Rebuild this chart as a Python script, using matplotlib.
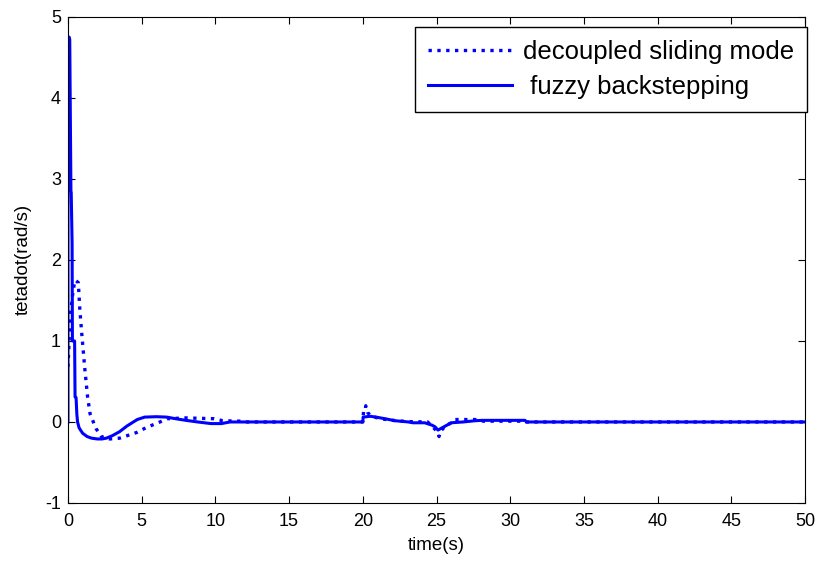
import matplotlib
matplotlib.use("Agg")
import matplotlib.pyplot as plt

plt.rcParams['font.family'] = ['Liberation Sans', 'DejaVu Sans']
plt.rcParams['axes.unicode_minus'] = False

# angular velocity response, fuzzy backstepping controller
t_fuzzy = [0.0, 0.0, 0.08, 0.12, 0.2, 0.22, 0.28, 0.3, 0.45, 0.48, 0.55, 0.6, 0.65,
           0.75, 0.85, 1.0, 1.3, 1.6, 2.0, 2.3, 2.6, 3.0, 3.5, 4.0, 4.7, 5.2,
           6.0, 6.7, 7.3, 8.0, 8.8, 9.7, 10.4, 11.0, 20.0, 20.02, 20.5, 20.9,
           21.5, 22.2, 23.1, 23.4, 24.2, 24.7, 24.9, 25.1, 25.6, 26.0, 26.8,
           27.6, 28.1, 31.0, 31.1, 50.0]
w_fuzzy = [0.0, 4.75, 4.75, 4.72, 2.85, 2.83, 2.2, 1.0, 1.0, 0.31, 0.3, 0.1, 0.0,
           -0.07, -0.1, -0.14, -0.18, -0.2, -0.21, -0.21, -0.2, -0.17, -0.12, -0.05, 0.03,
           0.06, 0.065, 0.06, 0.04, 0.02, 0.0, -0.02, -0.02, 0.0, 0.0, 0.06, 0.07, 0.06,
           0.04, 0.015, 0.0, -0.01, -0.01, -0.04, -0.06, -0.1, -0.05, -0.01, 0.0,
           0.015, 0.02, 0.02, 0.0, 0.0]

# angular velocity response, decoupled sliding mode controller
t_slide = [0.0, 0.08, 0.15, 0.3, 0.45, 0.5, 0.7, 0.8, 0.93, 1.15, 1.33, 1.5, 1.72,
           1.9, 2.26, 2.6, 2.85, 3.5, 4.0, 4.66, 5.3, 6.24, 6.7, 8.0, 9.9, 10.5,
           11.7, 12.0, 20.0, 20.05, 20.15, 20.2, 20.35, 20.6, 21.2, 22.0, 23.0,
           24.4, 24.9, 25.05, 25.17, 25.3, 25.6, 26.0, 26.2, 27.6, 28.2, 31.0,
           31.1, 50.0]
w_slide = [0.68, 1.0, 1.3, 1.55, 1.73, 1.75, 1.72, 1.4, 1.1, 0.64, 0.31, 0.1, 0.0,
           -0.08, -0.18, -0.2, -0.21, -0.2, -0.17, -0.13, -0.07, 0.0, 0.04, 0.05, 0.04,
           0.015, 0.01, 0.0, 0.0, 0.13, 0.13, 0.2, 0.11, 0.07, 0.04, 0.02, 0.005,
           0.0, -0.09, -0.12, -0.18, -0.11, -0.05, -0.01, 0.03, 0.03, 0.01, 0.01,
           0.0, 0.0]

x_ticks = [0, 5, 10, 15, 20, 25, 30, 35, 40, 45, 50]
y_ticks = [-1, 0, 1, 2, 3, 4, 5]

fig = plt.figure(figsize=(8.19, 5.62), dpi=100)
ax = fig.add_axes([0.083, 0.105, 0.9, 0.865])

ax.plot(t_slide, w_slide, linestyle=':', color='#0000ff', linewidth=2.4,
        label='decoupled sliding mode')
ax.plot(t_fuzzy, w_fuzzy, linestyle='-', color='#0000ff', linewidth=2.2,
        label=' fuzzy backstepping')

ax.set_xlim(0, 50)
ax.set_ylim(-1, 5)
ax.set_xticks(x_ticks)
ax.set_yticks(y_ticks)
ax.tick_params(direction='in', top=True, right=True, length=5, width=0.8,
               labelsize=13)
ax.tick_params(axis='x', pad=7)
ax.tick_params(axis='y', pad=5)
for s in ax.spines.values():
    s.set_linewidth(0.8)

ax.set_xlabel('time(s)', fontsize=13.5, labelpad=5)
ax.set_ylabel('tetadot(rad/s)', fontsize=13.5, labelpad=10)

leg = ax.legend(loc='upper right', bbox_to_anchor=(1.002, 0.979), fontsize=18.5,
                frameon=True, fancybox=False, framealpha=1, edgecolor='black',
                handlelength=3.3, handletextpad=0.4, borderpad=0.5,
                labelspacing=0.45, borderaxespad=0)
leg.get_frame().set_linewidth(1.0)

fig.savefig('out.png', dpi=100)
